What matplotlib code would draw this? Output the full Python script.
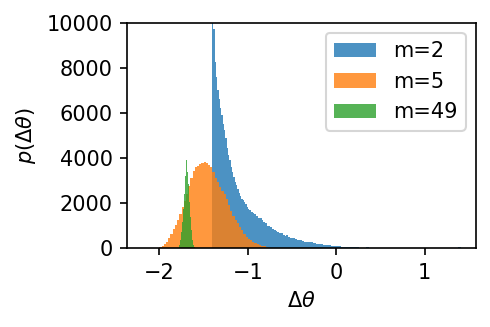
import numpy as np
import matplotlib
matplotlib.use("Agg")
import matplotlib.pyplot as plt

# bin heights
# m=2: fine bins near the jump, coarser bins in the long tail
m2_edges = np.concatenate([
    np.linspace(-1.405, -0.985, 29),
    np.linspace(-0.985, -0.345, 33)[1:],
    np.linspace(-0.345, 0.295, 17)[1:],
    np.linspace(0.295, 1.415, 29)[1:],
])
m2_counts = [12000, 9700, 8250, 7600, 7000, 6600, 6200, 5900, 5500, 5250,
             4900, 4450, 4150, 3900, 3600, 3380, 3160, 2940, 2810, 2620,
             2450, 2300, 2180, 2120, 2050, 1980, 1850, 1720,
             1700, 1600, 1560, 1500, 1450, 1360, 1330, 1250, 1180, 1120,
             980, 990, 930, 870, 790, 750, 700, 665, 690, 590,
             545, 580, 480, 470, 470, 440, 425, 380, 370, 365, 310, 295,
             300, 260, 240, 210, 180, 160, 140, 115, 95, 80, 70, 65,
             60, 55, 45, 30,
             25, 60, 15, 12, 10, 10, 8, 8, 6, 6, 5, 5, 5, 4, 4, 4,
             3, 3, 3, 3, 3, 3, 3, 3, 3, 3, 3, 50]

m5_edges = np.linspace(-2.0, -0.65, 55)
m5_counts = [40, 100, 200, 300, 470, 650, 840, 1040, 1270, 1530,
             1830, 2100, 2410, 2740, 3120, 3420, 3590, 3650, 3740, 3800,
             3820, 3770, 3710, 3610, 3370, 3130, 2950, 2720, 2560, 2400,
             2200, 1900, 1640, 1430, 1270, 1130, 950, 800, 650, 510,
             430, 350, 265, 215, 170, 145, 110, 80, 45, 20,
             10, 5, 3, 2]

m49_edges = np.linspace(-1.787, -1.787 + 17 * 0.0113, 18)
m49_counts = [30, 145, 370, 735, 1150, 1750, 2400, 3200, 3910, 3400,
              2850, 2050, 1400, 810, 365, 150, 40]

series = [("m=2", m2_edges, m2_counts),
          ("m=5", m5_edges, m5_counts),
          ("m=49", m49_edges, m49_counts)]

fig, ax = plt.subplots(figsize=(3.273, 2.18), dpi=150)

for label, edges, counts in series:
    centers = (edges[:-1] + edges[1:]) / 2
    ax.hist(centers, bins=edges, weights=counts, alpha=0.8, label=label)

ax.set_xlim(-2.365, 1.58)
ax.set_ylim(0, 10000)
ax.set_xlabel(r"$\Delta\theta$")
ax.set_ylabel(r"$p(\Delta\theta)$")
ax.legend(loc="upper right")

fig.subplots_adjust(left=0.259, right=0.9695, top=0.9306, bottom=0.2407)
fig.savefig("out.png", dpi=150)
